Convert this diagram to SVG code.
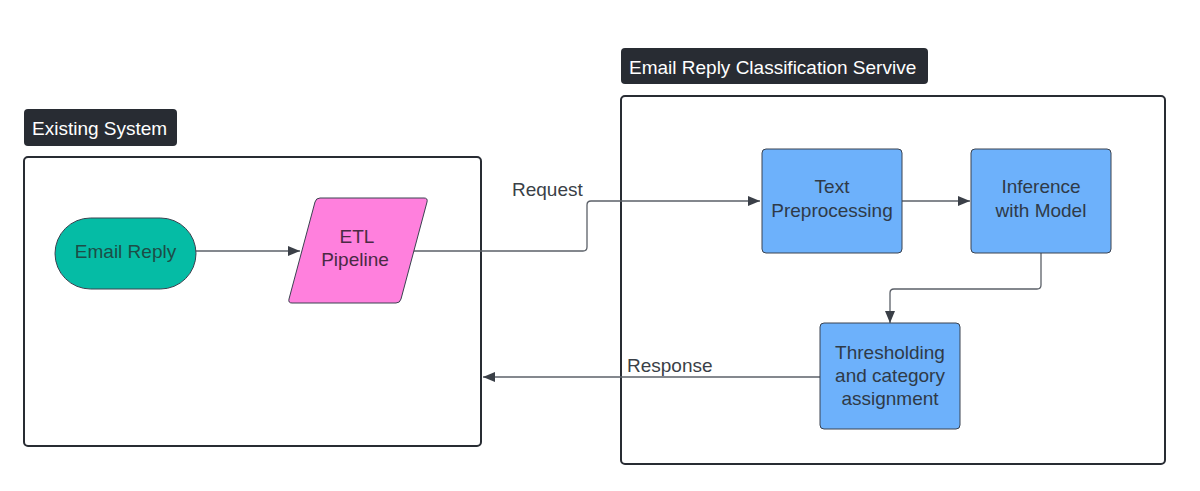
<svg xmlns="http://www.w3.org/2000/svg" width="1200" height="491" viewBox="0 0 1200 491">
<style>
text{font-family:"Liberation Sans",Arial,sans-serif;font-size:19px}
.lbl{fill:#282c33}
.lbltxt{fill:#ffffff}
.frame{fill:#ffffff;stroke:#282c33;stroke-width:2}
.node{stroke:#3a4250;stroke-width:1}
.blue{fill:#6db1fb}
.ntxt{fill:#2f3a48;text-anchor:middle}
.conn{fill:none;stroke:#5b6068;stroke-width:1.3}
.ctxt{fill:#3a3f47}
</style>
<defs>
<marker id="arr" viewBox="0 0 12 10" refX="12" refY="5" markerWidth="12" markerHeight="10" markerUnits="userSpaceOnUse" orient="auto">
<path d="M0,0 L12,5 L0,10 Z" fill="#3a3f47"/>
</marker>
</defs>
<rect width="1200" height="491" fill="#ffffff"/>

<g id="existing-system">
<rect x="24" y="109" width="153" height="37" rx="4" class="lbl"/>
<text x="32" y="135" class="lbltxt">Existing System</text>
<rect x="24" y="157" width="457" height="289" rx="4" class="frame"/>
</g>

<g id="classification-service">
<rect x="621" y="48" width="307" height="36" rx="4" class="lbl"/>
<text x="629" y="74" class="lbltxt">Email Reply Classification Servive</text>
<rect x="621" y="96" width="544" height="368" rx="4" class="frame"/>
</g>

<g id="connectors">
<path d="M196,251 H300" class="conn" marker-end="url(#arr)"/>
<path d="M413,251 H583 Q587,251 587,247 V205 Q587,201 591,201 H760" class="conn" marker-end="url(#arr)"/>
<path d="M902,201 H970" class="conn" marker-end="url(#arr)"/>
<path d="M1041,253 V285 Q1041,289 1037,289 H894 Q890,289 890,293 V323" class="conn" marker-end="url(#arr)"/>
<path d="M820,377 H483" class="conn" marker-end="url(#arr)"/>
<text x="512" y="196" class="ctxt">Request</text>
<text x="627" y="372" class="ctxt">Response</text>
</g>

<g id="email-reply">
<rect x="55" y="218" width="141" height="71" rx="35.5" fill="#05bca5" class="node"/>
<text x="125.5" y="258" class="ntxt" fill="#1d4d47" style="fill:#1d4d47">Email Reply</text>
</g>

<g id="etl-pipeline">
<path d="M320,198 H424 Q428,198 427,202 L401,299 Q400,303 396,303 H292 Q288,303 289,299 L315,202 Q316,198 320,198 Z" fill="#ff80dd" class="node"/>
<text x="357" y="243" class="ntxt" style="fill:#4a2a44">ETL</text>
<text x="355" y="266" class="ntxt" style="fill:#4a2a44">Pipeline</text>
</g>

<g id="text-preprocessing">
<rect x="762" y="149" width="140" height="104" rx="4" class="node blue"/>
<text x="832" y="193" class="ntxt">Text</text>
<text x="832" y="217" class="ntxt">Preprocessing</text>
</g>

<g id="inference">
<rect x="971" y="149" width="140" height="104" rx="4" class="node blue"/>
<text x="1041" y="193" class="ntxt">Inference</text>
<text x="1041" y="217" class="ntxt">with Model</text>
</g>

<g id="thresholding">
<rect x="820" y="323" width="140" height="106" rx="4" class="node blue"/>
<text x="890" y="359" class="ntxt">Thresholding</text>
<text x="890" y="382" class="ntxt">and category</text>
<text x="890" y="405" class="ntxt">assignment</text>
</g>
</svg>
